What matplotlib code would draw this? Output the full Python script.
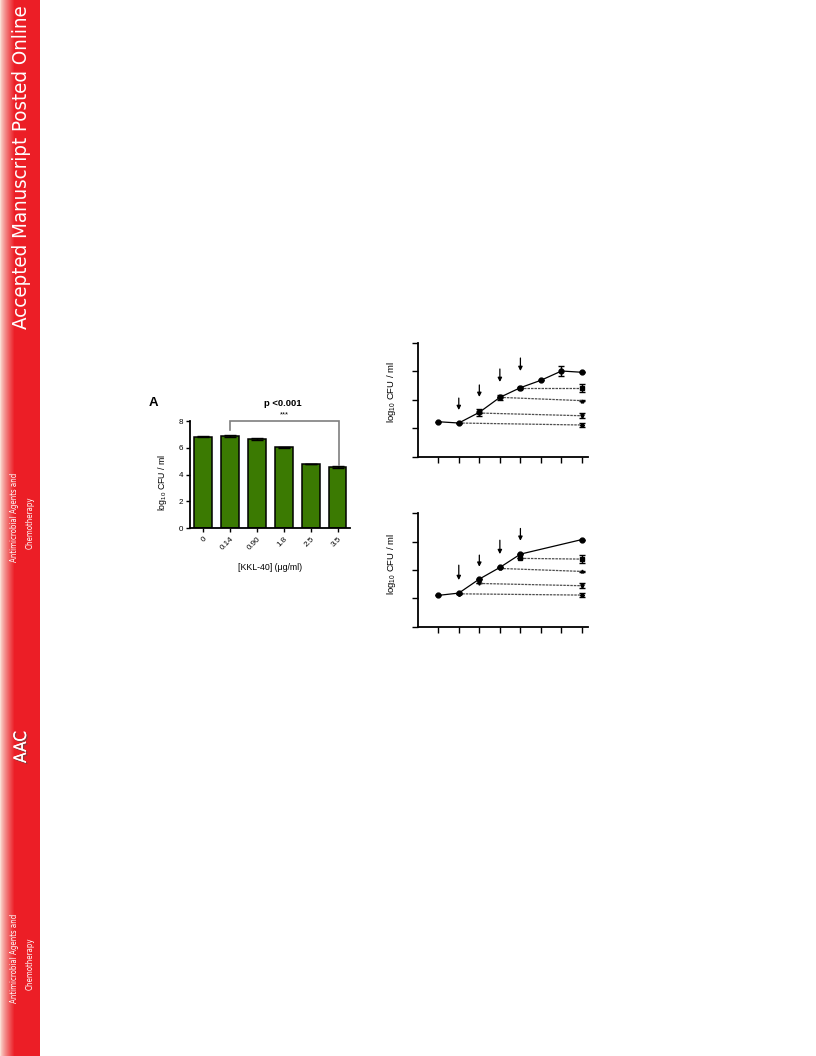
import numpy as np
import matplotlib
matplotlib.use("Agg")
import matplotlib.pyplot as plt
from matplotlib import font_manager, patheffects

# ---------------- data ----------------
# Panel A: bacterial load vs KKL-40 concentration
conc_labels = ["0", "0.14", "0.90", "1.8", "2.5", "3.5"]
cfu_mean = [6.83, 6.88, 6.63, 6.04, 4.79, 4.55]
cfu_sem = [0.05, 0.04, 0.07, 0.03, 0.03, 0.07]

# Time-course panels (upper and lower)
upper_time = [1, 2, 3, 4, 5, 6, 7, 8]
upper_growth = [2.44, 2.35, 3.10, 4.15, 4.83, 5.35, 6.00, 5.91]
upper_growth_err = [0, 0, 0.25, 0.18, 0.08, 0, 0.35, 0]
upper_add_time = [2, 3, 4, 5]
upper_treated_start = [2.35, 3.05, 4.15, 4.80]
upper_treated_end = [2.21, 2.86, 3.92, 4.80]
upper_treated_err = [0.15, 0.18, 0.05, 0.26]
upper_arrow_tip = [3.26, 4.18, 5.23, 6.00]
upper_arrow_tail = [4.10, 5.02, 6.14, 6.91]

lower_time = [1, 2, 3, 4, 5, 8]
lower_growth = [2.21, 2.37, 3.36, 4.18, 5.12, 6.15]
lower_growth_err = [0, 0, 0, 0, 0, 0]
lower_add_time = [2, 3, 4, 5]
lower_treated_start = [2.32, 3.05, 4.11, 4.82]
lower_treated_end = [2.23, 2.89, 3.90, 4.77]
lower_treated_err = [0.15, 0.18, 0.05, 0.30]
lower_arrow_tip = [3.29, 4.23, 5.12, 6.06]
lower_arrow_tail = [4.34, 5.05, 6.10, 6.93]

end_time = 8

# ---------------- style ----------------
plt.rcParams["font.family"] = ["Liberation Sans", "DejaVu Sans"]
plt.rcParams["mathtext.fontset"] = "custom"
plt.rcParams["mathtext.rm"] = "Liberation Sans"
plt.rcParams["mathtext.it"] = "Liberation Sans:italic"
plt.rcParams["mathtext.bf"] = "Liberation Sans:bold"

# ---------------- figure ----------------
W, H = 816, 1056
fig = plt.figure(figsize=(W / 100, H / 100), dpi=100)
fig.patch.set_facecolor("white")


def px_axes(left, top, right, bottom):
    return fig.add_axes([left / W, 1 - bottom / H, (right - left) / W, (bottom - top) / H])


# ---------------- journal side bar ----------------
fonts = font_manager.fontManager.ttflist
names = {f.name for f in fonts}
if "Liberation Sans Narrow" in names:
    side_props = dict(family="Liberation Sans Narrow")
elif any(f.name == "DejaVu Sans" and f.stretch == "condensed" for f in fonts):
    side_props = dict(family="DejaVu Sans", fontstretch="condensed")
else:
    side_props = dict(family="DejaVu Sans")

bar_ax = px_axes(0, 0, 40, H)
red = np.array([236, 30, 38]) / 255
light = np.array([250, 222, 212]) / 255
cols = np.arange(40)
t = np.clip(cols / 14.0, 0, 1) ** 0.8
grad = light[None, :] * (1 - t[:, None]) + red[None, :] * t[:, None]
bar_ax.imshow(grad[None, :, :], extent=[0, 40, 0, H], aspect="auto")
bar_ax.set_xlim(0, 40)
bar_ax.set_ylim(0, H)
bar_ax.axis("off")

renderer = fig.canvas.get_renderer()


def side_text(x, y, s, length=None, size=None, **kw):
    txt = fig.text(x / W, 1 - y / H, s, rotation=90, ha="center", va="center",
                   color="white", fontsize=10, **side_props, **kw)
    if length is not None:
        ext = txt.get_window_extent(renderer)
        txt.set_fontsize(10 * length / ext.height)
    else:
        txt.set_fontsize(size)
    return txt


side_text(22, 167, "Accepted Manuscript Posted Online", 325)
for yc in (517, 958):
    t1 = side_text(15, yc, "Antimicrobial Agents and", 90)
    side_text(30, yc + 6, "Chemotherapy", size=t1.get_fontsize())
aac = side_text(21, 747, "AAC", 32)
aac.set_path_effects([patheffects.withSimplePatchShadow(offset=(1, -1), alpha=0.6),
                      patheffects.Normal()])

# ---------------- panel A: bar chart ----------------
ax = px_axes(190, 421, 350, 528.3)
xpos = np.arange(len(conc_labels))
ax.bar(xpos, cfu_mean, width=0.66, color="#3b7a02", edgecolor="black", linewidth=1.1,
       yerr=cfu_sem, capsize=4.5,
       error_kw=dict(elinewidth=1.0, capthick=1.0, ecolor="black"))
ax.set_xlim(-0.48, 5.46)
ax.set_ylim(0, 8)
for s in ("top", "right"):
    ax.spines[s].set_visible(False)
for s in ("left", "bottom"):
    ax.spines[s].set_linewidth(1.3)
ax.set_yticks([0, 2, 4, 6, 8])
ax.set_xticks(xpos)
ax.set_xticklabels(conc_labels, rotation=45, ha="right", rotation_mode="anchor")
ax.tick_params(labelsize=5.8, length=3, width=1, pad=2)
ax.set_ylabel("log$_{10}$ CFU / ml", fontsize=6.3)
ax.yaxis.set_label_coords(-0.13, 0.43)

# significance bracket between 0.14 and 3.5
ax.plot([1, 1, 5.05, 5.05], [7.33, 8.0, 8.0, 4.72], color="#7f7f7f", lw=1.2,
        clip_on=False, solid_joinstyle="miter")
fig.text(284 / W, 1 - 415 / H, "***", ha="center", va="center", fontsize=5.5)
fig.text(283 / W, 1 - 404 / H, "p <0.001", ha="center", va="center",
         fontsize=6.8, fontweight="bold")
fig.text(153 / W, 1 - 403 / H, "A", ha="center", va="center",
         fontsize=9.5, fontweight="bold")
fig.text(270 / W, 1 - 567 / H, "[KKL-40] (\u03bcg/ml)", ha="center", va="center",
         fontsize=6.3)

# ---------------- time-course panels ----------------
branch_markers = ["D", "v", "^", "s"]
branch_sizes = [2.0, 2.5, 2.0, 3.5]


def time_course(ax, t_main, y_main, e_main, t_add, y0, y1, e1, tip, tail, label_y):
    for k, ta in enumerate(t_add):
        ax.errorbar([ta, end_time], [y0[k], y1[k]], yerr=[0, e1[k]],
                    color="#4d4d4d", ls=(0, (2.0, 0.8)), lw=0.9,
                    marker=branch_markers[k], ms=branch_sizes[k],
                    mfc="black", mec="black", ecolor="black",
                    elinewidth=1.0, capsize=2.2, capthick=1.0, zorder=2)
    ax.errorbar(t_main, y_main, yerr=e_main, color="black", lw=0.9, marker="o",
                ms=3.5, ecolor="black", elinewidth=1.0, capsize=2.2, capthick=1.0,
                zorder=3)
    for k, ta in enumerate(t_add):
        ax.annotate("", xy=(ta, tip[k]), xytext=(ta, tail[k]),
                    arrowprops=dict(arrowstyle="-|>", color="black", lw=0.9,
                                    mutation_scale=6, shrinkA=0, shrinkB=0))
    ax.set_xlim(0, 8.29)
    ax.set_ylim(0, 8)
    for s in ("top", "right"):
        ax.spines[s].set_visible(False)
    for s in ("left", "bottom"):
        ax.spines[s].set_linewidth(1.3)
    ax.set_yticks([0, 2, 4, 6, 8])
    ax.set_xticks(np.arange(1, 9))
    ax.tick_params(length=4, width=1, labelleft=False, labelbottom=False)
    ax.set_ylabel("log$_{10}$ CFU / ml", fontsize=6.8)
    ax.yaxis.set_label_coords(-0.115, label_y)


ax_up = px_axes(417.7, 342.5, 588, 456.5)
time_course(ax_up, upper_time, upper_growth, upper_growth_err, upper_add_time,
            upper_treated_start, upper_treated_end, upper_treated_err,
            upper_arrow_tip, upper_arrow_tail, 0.566)

ax_lo = px_axes(417.7, 513.3, 588, 626.7)
time_course(ax_lo, lower_time, lower_growth, lower_growth_err, lower_add_time,
            lower_treated_start, lower_treated_end, lower_treated_err,
            lower_arrow_tip, lower_arrow_tail, 0.553)

fig.savefig("out.png", dpi=100, facecolor="white")
